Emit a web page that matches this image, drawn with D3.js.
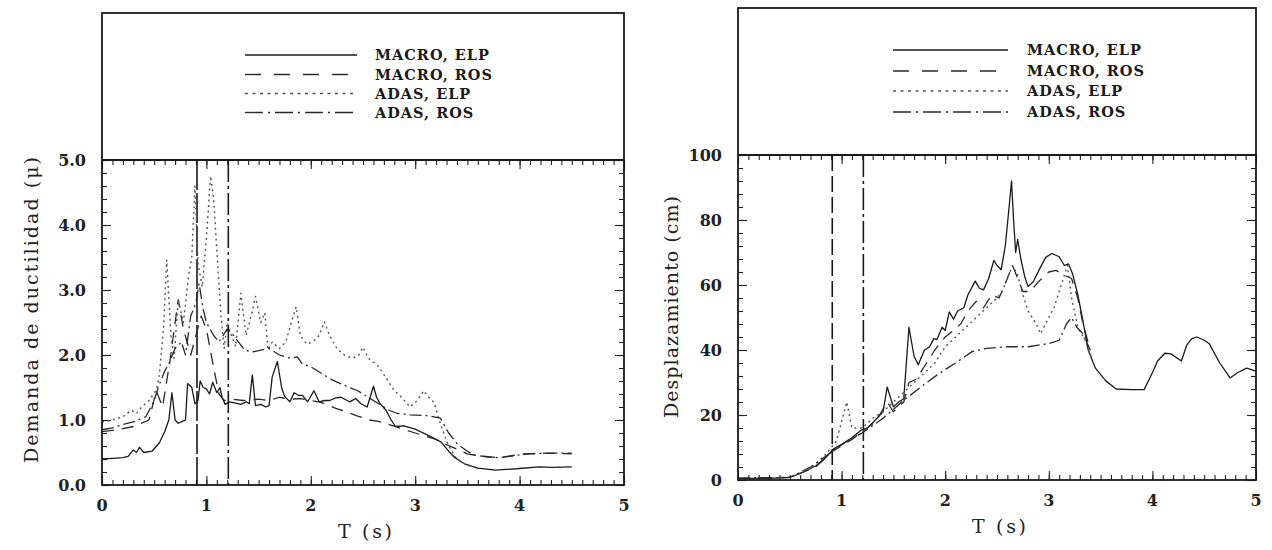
<!DOCTYPE html>
<html lang="es">
  <head>
    <meta charset="UTF-8" />
    <title>Espectros de ductilidad y desplazamiento</title>
    <script src="https://d3js.org/d3.v7.min.js"></script>
    <style>
      body {
        margin: 0;
        background-color: #fff;
      }
      svg {
        display: block;
      }
      .tick-label {
        font-family: "DejaVu Serif", serif;
        font-weight: bold;
        font-size: 16px;
        fill: #222;
      }
      .axis-title {
        font-family: "DejaVu Serif", serif;
        font-size: 19px;
        fill: #222;
      }
      .legend-text {
        font-family: "DejaVu Serif", serif;
        font-weight: bold;
        font-size: 14.5px;
        fill: #1a1a1a;
        letter-spacing: 1px;
      }
    </style>
  </head>
  <body>
    <svg id="chart" width="1272" height="550"></svg>
    <script>
      // series names
      const seriesNames = ["MACRO, ELP", "MACRO, ROS", "ADAS, ELP", "ADAS, ROS"];

      // left panel: demanda de ductilidad vs T
      const ductMacroElp = [
        [0, 0.4], [0.1, 0.41], [0.2, 0.42], [0.25, 0.44], [0.3, 0.54], [0.33, 0.5],
        [0.36, 0.58], [0.4, 0.5], [0.48, 0.52], [0.55, 0.65], [0.6, 0.82], [0.64, 1.0],
        [0.67, 1.42], [0.7, 1.0], [0.73, 0.95], [0.77, 0.98], [0.8, 1.0], [0.82, 1.56],
        [0.86, 1.5], [0.89, 1.25], [0.92, 1.3], [0.94, 1.6], [0.97, 1.5], [1.0, 1.48],
        [1.03, 1.4], [1.06, 1.58], [1.1, 1.42], [1.13, 1.5], [1.15, 1.35], [1.18, 1.24],
        [1.22, 1.28], [1.28, 1.26], [1.33, 1.24], [1.38, 1.28], [1.41, 1.25], [1.44, 1.69],
        [1.47, 1.22], [1.52, 1.24], [1.57, 1.2], [1.6, 1.22], [1.63, 1.66], [1.68, 1.9],
        [1.72, 1.5], [1.75, 1.36], [1.8, 1.28], [1.84, 1.42], [1.88, 1.38], [1.92, 1.38],
        [1.97, 1.28], [2.03, 1.45], [2.08, 1.28], [2.13, 1.3], [2.18, 1.3], [2.24, 1.34],
        [2.29, 1.35], [2.37, 1.28], [2.43, 1.33], [2.48, 1.25], [2.54, 1.2], [2.6, 1.52],
        [2.63, 1.35], [2.66, 1.26], [2.72, 1.15], [2.77, 1.0], [2.81, 0.9], [2.89, 0.91],
        [3.0, 0.86], [3.13, 0.76], [3.25, 0.66], [3.32, 0.52], [3.38, 0.42], [3.48, 0.32],
        [3.6, 0.26], [3.77, 0.23], [3.97, 0.25], [4.19, 0.28], [4.3, 0.27], [4.5, 0.28]
      ];
      const ductMacroRos = [
        [0, 0.82], [0.15, 0.85], [0.3, 0.9], [0.45, 1.0], [0.52, 1.45], [0.58, 1.2],
        [0.65, 1.9], [0.73, 2.85], [0.78, 2.4], [0.85, 2.0], [0.95, 2.6], [1.0, 2.4],
        [1.07, 1.8], [1.12, 1.4], [1.17, 1.3], [1.25, 1.32], [1.35, 1.3], [1.5, 1.32],
        [1.6, 1.3], [1.7, 1.35], [1.8, 1.32], [1.9, 1.33], [2.0, 1.3], [2.1, 1.27],
        [2.24, 1.18], [2.35, 1.12], [2.45, 1.06], [2.56, 1.0], [2.65, 0.98], [2.75, 0.93],
        [2.85, 0.88], [3.0, 0.8], [3.1, 0.75], [3.2, 0.7], [3.3, 0.62], [3.4, 0.55],
        [3.5, 0.48], [3.6, 0.45], [3.8, 0.42], [4.0, 0.47], [4.2, 0.49], [4.5, 0.48]
      ];
      const ductAdasElp = [
        [0, 0.97], [0.1, 1.0], [0.2, 1.05], [0.28, 1.15], [0.33, 1.1], [0.38, 1.2],
        [0.45, 1.3], [0.52, 1.46], [0.55, 1.7], [0.59, 2.43], [0.62, 3.46], [0.66, 2.3],
        [0.69, 1.95], [0.73, 2.85], [0.78, 2.5], [0.83, 3.23], [0.86, 3.5], [0.89, 4.6],
        [0.92, 3.4], [0.96, 3.05], [1.0, 3.8], [1.04, 4.75], [1.07, 4.4], [1.1, 3.6],
        [1.14, 2.6], [1.17, 2.1], [1.2, 2.5], [1.24, 2.3], [1.28, 2.13], [1.33, 2.95],
        [1.38, 2.3], [1.44, 2.68], [1.47, 2.9], [1.52, 2.5], [1.56, 2.65], [1.59, 2.08],
        [1.63, 2.2], [1.7, 2.1], [1.76, 2.2], [1.83, 2.59], [1.86, 2.74], [1.9, 2.3],
        [1.96, 2.17], [2.02, 2.2], [2.08, 2.3], [2.13, 2.51], [2.18, 2.3], [2.25, 2.1],
        [2.32, 2.0], [2.4, 1.95], [2.46, 2.0], [2.5, 2.12], [2.55, 1.95], [2.64, 1.84],
        [2.7, 1.7], [2.8, 1.45], [2.87, 1.35], [2.95, 1.2], [3.02, 1.3], [3.08, 1.45],
        [3.13, 1.35], [3.18, 1.27], [3.25, 0.9], [3.32, 0.6], [3.4, 0.4], [3.5, 0.3],
        [3.6, 0.26]
      ];
      const ductAdasRos = [
        [0, 0.85], [0.1, 0.88], [0.2, 0.93], [0.3, 0.97], [0.42, 1.05], [0.5, 1.3],
        [0.54, 1.51], [0.6, 1.75], [0.65, 1.9], [0.7, 2.1], [0.76, 2.2], [0.8, 2.0],
        [0.85, 2.6], [0.9, 2.8], [0.93, 3.1], [0.97, 2.7], [1.0, 2.5], [1.07, 2.3],
        [1.12, 2.2], [1.2, 2.4], [1.26, 2.3], [1.37, 2.07], [1.45, 2.05], [1.6, 2.1],
        [1.7, 2.0], [1.8, 1.95], [1.87, 1.97], [1.92, 1.86], [2.0, 1.82], [2.12, 1.7],
        [2.2, 1.62], [2.3, 1.55], [2.37, 1.5], [2.45, 1.45], [2.55, 1.35], [2.65, 1.25],
        [2.75, 1.15], [2.83, 1.1], [2.95, 1.08], [3.1, 1.07], [3.24, 1.03], [3.32, 0.8],
        [3.41, 0.62], [3.5, 0.52], [3.57, 0.46], [3.7, 0.43], [3.8, 0.42], [3.95, 0.45],
        [4.05, 0.48], [4.3, 0.49], [4.5, 0.49]
      ];

      // right panel: desplazamiento (cm) vs T
      const dispMacroElp = [
        [0, 0.5], [0.3, 0.5], [0.5, 0.8], [0.6, 2], [0.75, 4.3], [0.85, 7], [0.92, 9.5],
        [1.0, 11], [1.1, 13], [1.19, 15.4], [1.25, 16], [1.33, 18.6], [1.4, 21],
        [1.44, 28.6], [1.5, 22.5], [1.55, 24], [1.6, 25], [1.65, 47], [1.7, 38],
        [1.74, 35.5], [1.8, 40], [1.85, 41], [1.89, 43.5], [1.92, 43.2], [1.97, 47],
        [2.0, 46], [2.04, 51.7], [2.08, 49.5], [2.12, 52], [2.18, 53], [2.22, 57],
        [2.29, 61.2], [2.33, 59], [2.37, 58.5], [2.42, 62], [2.47, 67.6], [2.5, 66],
        [2.54, 64.7], [2.58, 72], [2.62, 85], [2.64, 92], [2.66, 80], [2.68, 70],
        [2.7, 74], [2.73, 68], [2.77, 62.3], [2.8, 59.5], [2.85, 61], [2.92, 65.5],
        [2.97, 68.5], [3.03, 69.7], [3.08, 69], [3.1, 68.7], [3.15, 66], [3.19, 66.5],
        [3.23, 63.4], [3.28, 57], [3.32, 50.6], [3.38, 40], [3.45, 34.4], [3.55, 30.5],
        [3.65, 28], [3.8, 27.8], [3.92, 27.8], [4.0, 33], [4.05, 36.6], [4.12, 39],
        [4.18, 38.8], [4.28, 36.6], [4.33, 41.4], [4.38, 43.5], [4.43, 44], [4.5, 43],
        [4.55, 41.9], [4.65, 36], [4.75, 31.4], [4.82, 33], [4.91, 34.4], [5.0, 33.5]
      ];
      const dispMacroRos = [
        [0, 0.5], [0.5, 0.8], [0.75, 4], [0.92, 9], [1.1, 12.5], [1.2, 15], [1.33, 18],
        [1.44, 24], [1.5, 21], [1.6, 24], [1.65, 30], [1.72, 31], [1.8, 35], [1.9, 40],
        [2.0, 44], [2.08, 46], [2.15, 48], [2.22, 52], [2.3, 55], [2.37, 53], [2.45, 57],
        [2.52, 56], [2.6, 62], [2.65, 66], [2.7, 62], [2.75, 58], [2.82, 58], [2.9, 61],
        [3.0, 64], [3.07, 64.5], [3.15, 63], [3.22, 62], [3.28, 56], [3.33, 48], [3.4, 40]
      ];
      const dispAdasElp = [
        [0, 0.5], [0.5, 0.8], [0.7, 3.5], [0.85, 8], [0.95, 12], [1.0, 18], [1.05, 24],
        [1.1, 16], [1.2, 16], [1.3, 19], [1.4, 21], [1.5, 24], [1.6, 27], [1.7, 30],
        [1.8, 33], [1.9, 36], [2.0, 41], [2.1, 44], [2.2, 47], [2.3, 50], [2.4, 53],
        [2.5, 56], [2.55, 58], [2.6, 62], [2.65, 66], [2.7, 63], [2.75, 57], [2.8, 52],
        [2.88, 48], [2.92, 45], [3.0, 50], [3.05, 53], [3.12, 60], [3.18, 66], [3.22, 56],
        [3.28, 47], [3.35, 43], [3.42, 37]
      ];
      const dispAdasRos = [
        [0, 0.5], [0.5, 0.8], [0.7, 4], [0.9, 8.5], [1.1, 13], [1.2, 14.5], [1.4, 19],
        [1.6, 24.5], [1.8, 29.5], [1.93, 32.5], [2.1, 36], [2.26, 39.5], [2.4, 40.5],
        [2.6, 41], [2.8, 41], [2.9, 41.5], [3.0, 42], [3.1, 43], [3.17, 48], [3.22, 50],
        [3.27, 47], [3.33, 45], [3.4, 40]
      ];

      // periods marked with vertical lines
      const markPeriods = [0.91, 1.21];

      const xTicks = [0, 1, 2, 3, 4, 5];
      const ductTicks = [0, 1, 2, 3, 4, 5];
      const dispTicks = [0, 20, 40, 60, 80, 100];

      const dashes = ["none", "12,8", "2,3.5", "12,4,2,4"];
      const legendDashes = ["none", "16,13", "3,4.5", "18,5,2,5"];
      const colors = ["#1a1a1a", "#2a2a2a", "#555", "#2a2a2a"];

      const svg = d3.select("#chart");

      function drawPanel(cfg) {
        const g = svg.append("g");
        const x = d3.scaleLinear().domain([0, 5]).range([cfg.left, cfg.right]);
        const y = d3
          .scaleLinear()
          .domain([0, cfg.yMax])
          .range([cfg.bottom, cfg.plotTop]);

        // minor + major ticks, pointing inwards on the four sides
        const xMinor = d3.range(0, 5.001, 0.1);
        const yMinor = d3.range(0, cfg.yMax + 1e-6, cfg.yMinorStep);
        const tickSides = [
          [d3.axisBottom, x, `translate(0,${cfg.bottom})`],
          [d3.axisTop, x, `translate(0,${cfg.plotTop})`],
          [d3.axisLeft, y, `translate(${cfg.left},0)`],
          [d3.axisRight, y, `translate(${cfg.right},0)`]
        ];
        tickSides.forEach(([axisFn, scale, tr]) => {
          const minorVals = scale === x ? xMinor : yMinor;
          const majorVals = scale === x ? xTicks : cfg.yTicks;
          [
            [minorVals, 5],
            [majorVals, 9]
          ].forEach(([vals, len]) => {
            const ax = g
              .append("g")
              .attr("transform", tr)
              .call(axisFn(scale).tickValues(vals).tickSize(-len).tickFormat(""));
            ax.select(".domain").remove();
            ax.selectAll("line").attr("stroke", "#222").attr("stroke-width", 1.1);
          });
        });

        // tick labels
        g.append("g")
          .selectAll("text")
          .data(xTicks)
          .join("text")
          .attr("class", "tick-label")
          .attr("x", (d) => x(d))
          .attr("y", cfg.bottom + 26)
          .attr("text-anchor", "middle")
          .text((d) => d);
        g.append("g")
          .selectAll("text")
          .data(cfg.yTicks)
          .join("text")
          .attr("class", "tick-label")
          .attr("x", cfg.left - 16)
          .attr("y", (d) => y(d) + 6)
          .attr("text-anchor", "end")
          .text(cfg.yFormat);

        // titles
        g.append("text")
          .attr("class", "axis-title")
          .attr("x", (cfg.left + cfg.right) / 2 + 2)
          .attr("y", cfg.bottom + 53)
          .attr("text-anchor", "middle")
          .attr("textLength", 54)
          .attr("lengthAdjust", "spacing")
          .text("T (s)");
        g.append("text")
          .attr("class", "axis-title")
          .attr(
            "transform",
            `translate(${cfg.yTitleX},${cfg.yTitleY}) rotate(-90)`
          )
          .attr("text-anchor", "middle")
          .attr("textLength", cfg.yTitleLen)
          .attr("lengthAdjust", "spacing")
          .text(cfg.yTitle);

        // marked periods
        g.selectAll(".mark")
          .data(markPeriods)
          .join("line")
          .attr("class", "mark")
          .attr("x1", (d) => x(d))
          .attr("x2", (d) => x(d))
          .attr("y1", cfg.plotTop)
          .attr("y2", cfg.bottom)
          .attr("stroke", "#1a1a1a")
          .attr("stroke-width", 1.6)
          .attr("stroke-dasharray", (d, i) => (i === 0 ? cfg.markDash : "22,4,3,4"));

        // curves
        const line = d3
          .line()
          .x((d) => x(d[0]))
          .y((d) => y(d[1]));
        const curveG = g.append("g");
        cfg.series.forEach((s, i) => {
          curveG
            .append("path")
            .datum(s)
            .attr("d", line)
            .attr("fill", "none")
            .attr("stroke", colors[i])
            .attr("stroke-width", i === 2 ? 1.4 : 1.3)
            .attr("stroke-linejoin", "round")
            .attr("stroke-dasharray", dashes[i]);
        });

        // legend
        const leg = g
          .append("g")
          .selectAll("g")
          .data(seriesNames)
          .join("g")
          .attr("transform", (d, i) => `translate(0,${cfg.legendRows[i]})`);
        leg
          .append("line")
          .attr("x1", cfg.legendX0)
          .attr("x2", cfg.legendX1)
          .attr("stroke", (d, i) => colors[i])
          .attr("stroke-width", 1.4)
          .attr("stroke-dasharray", (d, i) => legendDashes[i]);
        leg
          .append("text")
          .attr("class", "legend-text")
          .attr("x", cfg.legendText)
          .attr("y", 5)
          .text((d) => d);

        // frame
        g.append("rect")
          .attr("x", cfg.left)
          .attr("y", cfg.top)
          .attr("width", cfg.right - cfg.left)
          .attr("height", cfg.bottom - cfg.top)
          .attr("fill", "none")
          .attr("stroke", "#1a1a1a")
          .attr("stroke-width", 1.8);
        g.append("line")
          .attr("x1", cfg.left)
          .attr("x2", cfg.right)
          .attr("y1", cfg.plotTop)
          .attr("y2", cfg.plotTop)
          .attr("stroke", "#1a1a1a")
          .attr("stroke-width", 1.8);
      }

      drawPanel({
        left: 102,
        right: 624,
        top: 13,
        plotTop: 160,
        bottom: 485,
        yMax: 5,
        yTicks: ductTicks,
        yMinorStep: 0.2,
        yFormat: d3.format(".1f"),
        yTitle: "Demanda de ductilidad (μ)",
        yTitleX: 38,
        yTitleY: 310,
        yTitleLen: 306,
        markDash: "30,3",
        series: [ductMacroElp, ductMacroRos, ductAdasElp, ductAdasRos],
        legendRows: [55, 74.5, 93.5, 112.5],
        legendX0: 245,
        legendX1: 357,
        legendText: 375
      });

      drawPanel({
        left: 738,
        right: 1256,
        top: 8,
        plotTop: 155,
        bottom: 480,
        yMax: 100,
        yTicks: dispTicks,
        yMinorStep: 4,
        yFormat: (d) => d,
        yTitle: "Desplazamiento (cm)",
        yTitleX: 678,
        yTitleY: 307,
        yTitleLen: 222,
        markDash: "16,5",
        series: [dispMacroElp, dispMacroRos, dispAdasElp, dispAdasRos],
        legendRows: [50, 71, 91, 112],
        legendX0: 893,
        legendX1: 1008,
        legendText: 1027
      });
    </script>
  </body>
</html>
